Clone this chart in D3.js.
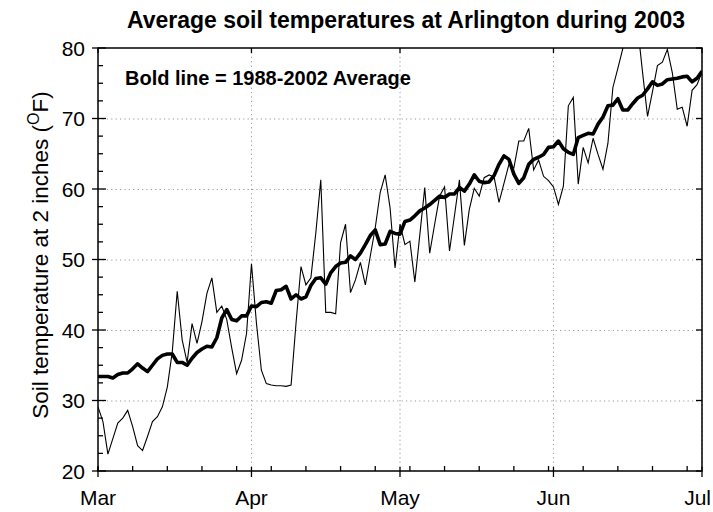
<!DOCTYPE html>
<html>
<head>
<meta charset="utf-8">
<script src="https://cdn.jsdelivr.net/npm/d3@7"></script>
<style>
  body { margin: 0; background: #fff; }
  text { font-family: "Liberation Sans", Arial, Helvetica, sans-serif; fill: #000; }
</style>
</head>
<body>
<svg id="chart" width="713" height="512"></svg>
<script>
// Daily soil temperatures (°F) at 2 inches, Mar 1 – Jul 1, 2003
const startDate = "2003-03-01";
const monthLabels = ["Mar", "Apr", "May", "Jun", "Jul"];
const yTickValues = [20, 30, 40, 50, 60, 70, 80];

const temps2003 = [
  29.1, 27.0, 22.4, 24.6, 26.8, 27.5, 28.6, 26.3, 23.6, 22.9,
  24.9, 27.0, 27.7, 29.1, 31.9, 36.9, 45.5, 38.6, 35.4, 40.9,
  38.1, 41.2, 45.2, 47.4, 42.5, 43.4, 41.5, 37.5, 33.8, 35.7,
  39.5, 49.4, 41.0, 34.3, 32.4, 32.2, 32.1, 32.1, 32.0, 32.2,
  41.0, 49.0, 46.4, 47.4, 53.8, 61.3, 42.5, 42.5, 42.3, 52.4,
  55.0, 45.3, 47.1, 49.6, 46.4, 50.5, 54.5, 59.5, 62.0, 57.3,
  48.8, 55.0, 52.1, 52.6, 46.8, 53.5, 60.2, 50.9, 55.0, 59.0,
  60.3, 51.2, 56.2, 61.3, 52.0, 57.1, 60.1, 59.0, 61.6, 62.0,
  61.7, 58.1, 60.8, 63.5, 63.0, 66.8, 66.8, 68.6, 62.7, 64.1,
  61.8, 61.2, 60.3, 57.8, 60.4, 71.8, 73.0, 60.7, 65.9, 63.7,
  67.2, 64.9, 62.8, 66.5, 74.4, 77.1, 79.9, 83.0, 85.0, 83.0,
  76.5, 70.3, 73.8, 77.5, 78.0, 79.8, 76.5, 71.3, 71.6, 68.9,
  74.0, 74.8, 76.6
];

// 1988-2002 daily average
const avgTemps = [
  33.4, 33.4, 33.4, 33.2, 33.7, 33.9, 33.9, 34.5, 35.2, 34.6,
  34.1, 35.0, 35.9, 36.4, 36.6, 36.6, 35.4, 35.4, 35.0, 36.0,
  36.8, 37.3, 37.7, 37.6, 38.9, 41.7, 42.9, 41.5, 41.3, 42.0,
  42.0, 43.4, 43.3, 43.9, 44.0, 43.8, 45.6, 45.7, 46.2, 44.4,
  45.0, 44.4, 44.7, 46.3, 47.3, 47.4, 46.5, 48.1, 49.0, 49.5,
  49.6, 50.5, 50.0, 50.9, 52.1, 53.4, 54.2, 52.1, 52.2, 54.0,
  53.7, 53.6, 55.4, 55.6, 56.2, 56.9, 57.3, 57.8, 58.4, 59.0,
  58.8, 59.3, 59.3, 60.2, 59.7, 60.7, 62.0, 61.1, 60.9, 61.0,
  61.9, 63.5, 64.7, 64.2, 62.1, 60.8, 61.6, 63.5, 64.2, 64.5,
  64.9, 65.9, 66.0, 66.8, 65.7, 65.2, 64.9, 67.3, 67.6, 67.9,
  67.8, 69.2, 70.2, 71.8, 71.9, 72.8, 71.2, 71.2, 72.1, 72.9,
  73.3, 74.2, 75.2, 74.7, 74.9, 75.5, 75.6, 75.7, 75.9, 76.0,
  75.2, 75.7, 76.7
];

const W = 713, H = 512;
const plot = { left: 98, right: 702, top: 48, bottom: 471 };

const svg = d3.select("#chart");
const t0 = d3.utcParse("%Y-%m-%d")(startDate);
const dayDate = i => d3.utcDay.offset(t0, i);
const tEnd = dayDate(temps2003.length - 1);

const x = d3.scaleUtc().domain([t0, tEnd]).range([plot.left, plot.right]);
const y = d3.scaleLinear().domain([20, 80]).range([plot.bottom, plot.top]);

const monthTicks = d3.utcMonth.range(t0, d3.utcDay.offset(tEnd, 1));
const weekTicks = d3.range(0, temps2003.length, 7).map(dayDate);
const yMinor = d3.range(20, 80.01, 2.5);

// Gridlines (dotted)
const grid = svg.append("g")
  .attr("stroke", "#9a9a9a").attr("stroke-width", 1)
  .attr("stroke-dasharray", "1.2,3.2");
grid.selectAll("line.h").data(yTickValues.slice(1, -1)).join("line")
  .attr("x1", plot.left).attr("x2", plot.right)
  .attr("y1", d => y(d) + 0.5).attr("y2", d => y(d) + 0.5);
grid.selectAll("line.v").data(monthTicks.slice(1)).join("line")
  .attr("x1", d => x(d)).attr("x2", d => x(d))
  .attr("y1", plot.top).attr("y2", plot.bottom);

// Clip to plot area
svg.append("clipPath").attr("id", "plot-clip").append("rect")
  .attr("x", plot.left).attr("y", plot.top)
  .attr("width", plot.right - plot.left).attr("height", plot.bottom - plot.top);

const line = d3.line().x((d, i) => x(dayDate(i))).y(d => y(d));
const lines = svg.append("g").attr("clip-path", "url(#plot-clip)").attr("fill", "none");
lines.append("path").datum(temps2003)
  .attr("d", line).attr("stroke", "#000").attr("stroke-width", 1.1)
  .attr("stroke-linejoin", "miter");
lines.append("path").datum(avgTemps)
  .attr("d", line).attr("stroke", "#000").attr("stroke-width", 3.6)
  .attr("stroke-linejoin", "round");

// Frame
svg.append("rect")
  .attr("x", plot.left).attr("y", plot.top)
  .attr("width", plot.right - plot.left).attr("height", plot.bottom - plot.top)
  .attr("fill", "none").attr("stroke", "#000").attr("stroke-width", 1.5);

const ticks = svg.append("g").attr("stroke", "#000").attr("stroke-width", 1.3);
// left axis: major ticks cross, minor ticks inside
ticks.selectAll("line.ly").data(yTickValues).join("line")
  .attr("x1", plot.left - 6).attr("x2", plot.left + 8)
  .attr("y1", d => y(d)).attr("y2", d => y(d));
ticks.selectAll("line.lym").data(yMinor.filter(v => v % 10 !== 0)).join("line")
  .attr("x1", plot.left).attr("x2", plot.left + 5)
  .attr("y1", d => y(d)).attr("y2", d => y(d));
// right axis: major ticks inside
ticks.selectAll("line.ry").data(yTickValues).join("line")
  .attr("x1", plot.right - 6).attr("x2", plot.right)
  .attr("y1", d => y(d)).attr("y2", d => y(d));
// bottom axis: monthly ticks cross, weekly ticks inside
ticks.selectAll("line.bx").data(monthTicks).join("line")
  .attr("x1", d => x(d)).attr("x2", d => x(d))
  .attr("y1", plot.bottom - 4).attr("y2", plot.bottom + 6);
ticks.selectAll("line.bxm").data(weekTicks).join("line")
  .attr("x1", d => x(d)).attr("x2", d => x(d))
  .attr("y1", plot.bottom - 5).attr("y2", plot.bottom);
// top axis: monthly ticks inside
ticks.selectAll("line.tx").data(monthTicks).join("line")
  .attr("x1", d => x(d)).attr("x2", d => x(d))
  .attr("y1", plot.top).attr("y2", plot.top + 5);

// Tick labels
svg.append("g").selectAll("text").data(yTickValues).join("text")
  .attr("x", plot.left - 13).attr("y", d => y(d))
  .attr("dy", "0.36em").attr("text-anchor", "end")
  .attr("font-size", 21).text(d => d);
const lastMonth = monthTicks.length - 1;
svg.append("g").selectAll("text").data(monthTicks).join("text")
  .attr("x", (d, i) => i === lastMonth ? W - 2 : x(d)).attr("y", 505)
  .attr("text-anchor", (d, i) => i === lastMonth ? "end" : "middle")
  .attr("font-size", 21)
  .text((d, i) => monthLabels[i]);

// Title
svg.append("text")
  .attr("x", 406).attr("y", 28).attr("text-anchor", "middle")
  .attr("font-size", 23).attr("font-weight", "bold")
  .text("Average soil temperatures at Arlington during 2003");

// Annotation
svg.append("text")
  .attr("x", 125).attr("y", 85)
  .attr("font-size", 20).attr("font-weight", "bold")
  .text("Bold line = 1988-2002 Average");

// Y axis label
const ylab = svg.append("text")
  .attr("transform", "translate(48,255) rotate(-90)")
  .attr("text-anchor", "middle").attr("font-size", 22.5);
ylab.append("tspan").text("Soil temperature at 2 inches (");
ylab.append("tspan").attr("font-size", 16).attr("dy", -9).text("O");
ylab.append("tspan").attr("dy", 9).text("F)");
</script>
</body>
</html>
